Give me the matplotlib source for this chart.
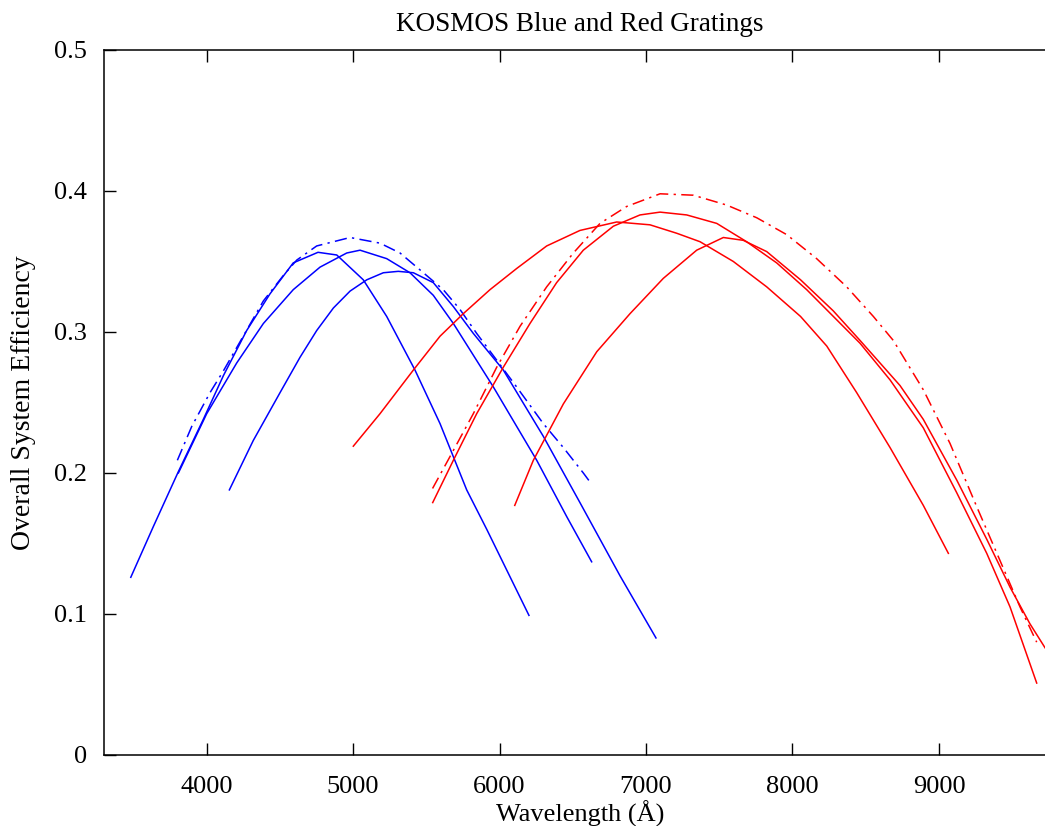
# KOSMOS grating efficiency curves
#
# Overall system efficiency vs wavelength for the blue and red
# gratings.

import matplotlib
matplotlib.use('Agg')
import matplotlib.pyplot as plt

# --- 1. Data ---
# Blue gratings (wavelength in Angstrom, efficiency)
blue1_wave = [3483, 3637, 3808, 3978, 4115, 4274, 4433, 4592, 4761, 4889,
              5070, 5230, 5423, 5594, 5776, 5913, 6201]
blue1_eff = [0.126, 0.162, 0.201, 0.238, 0.269, 0.301, 0.327, 0.349, 0.3565, 0.3546,
             0.337, 0.311, 0.273, 0.235, 0.188, 0.160, 0.099]

blue2_wave = [3808, 4001, 4206, 4388, 4592, 4775, 4957, 5048, 5230, 5389,
              5548, 5685, 5958, 6254, 6459, 6629]
blue2_eff = [0.200, 0.242, 0.278, 0.306, 0.330, 0.346, 0.356, 0.358, 0.352, 0.342,
             0.326, 0.306, 0.261, 0.209, 0.169, 0.137]

blue3_wave = [4156, 4319, 4502, 4638, 4752, 4866, 4980, 5094, 5207, 5309,
              5412, 5548, 5685, 5821, 6026, 6299, 6549, 6823, 7068]
blue3_eff = [0.188, 0.223, 0.257, 0.282, 0.301, 0.317, 0.329, 0.337, 0.342, 0.343,
             0.342, 0.335, 0.318, 0.299, 0.273, 0.226, 0.179, 0.127, 0.083]

# dash-dot blue curve
blue4_wave = [3801, 3899, 4024, 4113, 4388, 4524, 4616, 4752, 4980, 5184,
              5321, 5469, 5616, 5730, 5844, 5981, 6117, 6299, 6436, 6572, 6629]
blue4_eff = [0.209, 0.233, 0.257, 0.272, 0.322, 0.340, 0.351, 0.361, 0.367, 0.363,
             0.356, 0.343, 0.330, 0.316, 0.299, 0.280, 0.261, 0.235, 0.218, 0.200, 0.192]

# Red gratings
red1_wave = [5002, 5184, 5412, 5594, 5753, 5935, 6117, 6322, 6549, 6800,
             7027, 7210, 7369, 7596, 7824, 8055, 8234, 8438, 8666, 8893, 9064]
red1_eff = [0.219, 0.242, 0.273, 0.297, 0.313, 0.330, 0.345, 0.361, 0.372, 0.378,
            0.376, 0.370, 0.364, 0.350, 0.332, 0.311, 0.290, 0.257, 0.218, 0.177, 0.143]

red2_wave = [5544, 5685, 5844, 6026, 6208, 6390, 6572, 6777, 6959, 7096,
             7278, 7483, 7687, 7892, 8097, 8279, 8461, 8666, 8893, 9121,
             9326, 9485, 9667]
red2_eff = [0.179, 0.209, 0.242, 0.275, 0.306, 0.335, 0.358, 0.375, 0.383, 0.385,
            0.383, 0.377, 0.364, 0.349, 0.330, 0.311, 0.292, 0.266, 0.232, 0.186,
            0.143, 0.105, 0.051]

red3_wave = [6104, 6231, 6436, 6664, 6891, 7118, 7346, 7528, 7664, 7824,
             8055, 8278, 8461, 8734, 8893, 9121, 9326, 9485, 9621, 9724]
red3_eff = [0.177, 0.209, 0.249, 0.286, 0.313, 0.338, 0.358, 0.367, 0.365, 0.357,
            0.337, 0.315, 0.294, 0.262, 0.238, 0.195, 0.153, 0.119, 0.093, 0.076]

# dash-dot red curve
red4_wave = [5543, 5685, 5821, 5981, 6140, 6322, 6504, 6686, 6868, 7096,
             7323, 7551, 7756, 7961, 8165, 8370, 8552, 8688, 8893, 9075,
             9258, 9416, 9553, 9667]
red4_eff = [0.189, 0.216, 0.242, 0.275, 0.304, 0.332, 0.356, 0.377, 0.389, 0.398,
            0.397, 0.390, 0.381, 0.369, 0.352, 0.332, 0.311, 0.294, 0.259, 0.221,
            0.176, 0.138, 0.105, 0.080]

x_ticks = [4000, 5000, 6000, 7000, 8000, 9000]
y_ticks = [0, 0.1, 0.2, 0.3, 0.4, 0.5]
y_tick_labels = ['0', '0.1', '0.2', '0.3', '0.4', '0.5']

# --- 2. Figure setup ---
plt.rcParams['font.family'] = ['Liberation Serif', 'DejaVu Serif']
plt.rcParams['font.size'] = 19

fig = plt.figure(figsize=(10.45, 8.26), dpi=100)
ax = fig.add_axes([0.0995, 0.086, 0.9112, 0.8535])

lw = 1.1
dashdot = (0, (8, 3.5, 1.5, 3.5))

# --- 3. Plot the curves ---
ax.plot(blue1_wave, blue1_eff, color='blue', lw=lw)
ax.plot(blue2_wave, blue2_eff, color='blue', lw=lw)
ax.plot(blue3_wave, blue3_eff, color='blue', lw=lw)
ax.plot(blue4_wave, blue4_eff, color='blue', lw=lw, linestyle=dashdot)

ax.plot(red1_wave, red1_eff, color='red', lw=lw)
ax.plot(red2_wave, red2_eff, color='red', lw=lw)
ax.plot(red3_wave, red3_eff, color='red', lw=lw)
ax.plot(red4_wave, red4_eff, color='red', lw=lw, linestyle=dashdot)

# --- 4. Axes, ticks and labels ---
ax.set_xlim(3300, 9800)
ax.set_ylim(0, 0.5)
ax.set_xticks(x_ticks)
ax.set_yticks(y_ticks)
ax.set_yticklabels(y_tick_labels)
ax.tick_params(direction='in', length=8.5, width=1.0, top=True, right=False)
ax.tick_params(axis='x', pad=15)
ax.tick_params(axis='y', pad=12)
for spine in ax.spines.values():
    spine.set_linewidth(1.1)

ax.set_xlabel('Wavelength (Å)', labelpad=2)
ax.set_ylabel('Overall System Efficiency', labelpad=13, fontsize=20)
ax.set_title('KOSMOS Blue and Red Gratings', pad=13.5, fontsize=19.5)

# --- 5. Save ---
plt.savefig('out.png', dpi=100)
print('Plot saved as out.png')
